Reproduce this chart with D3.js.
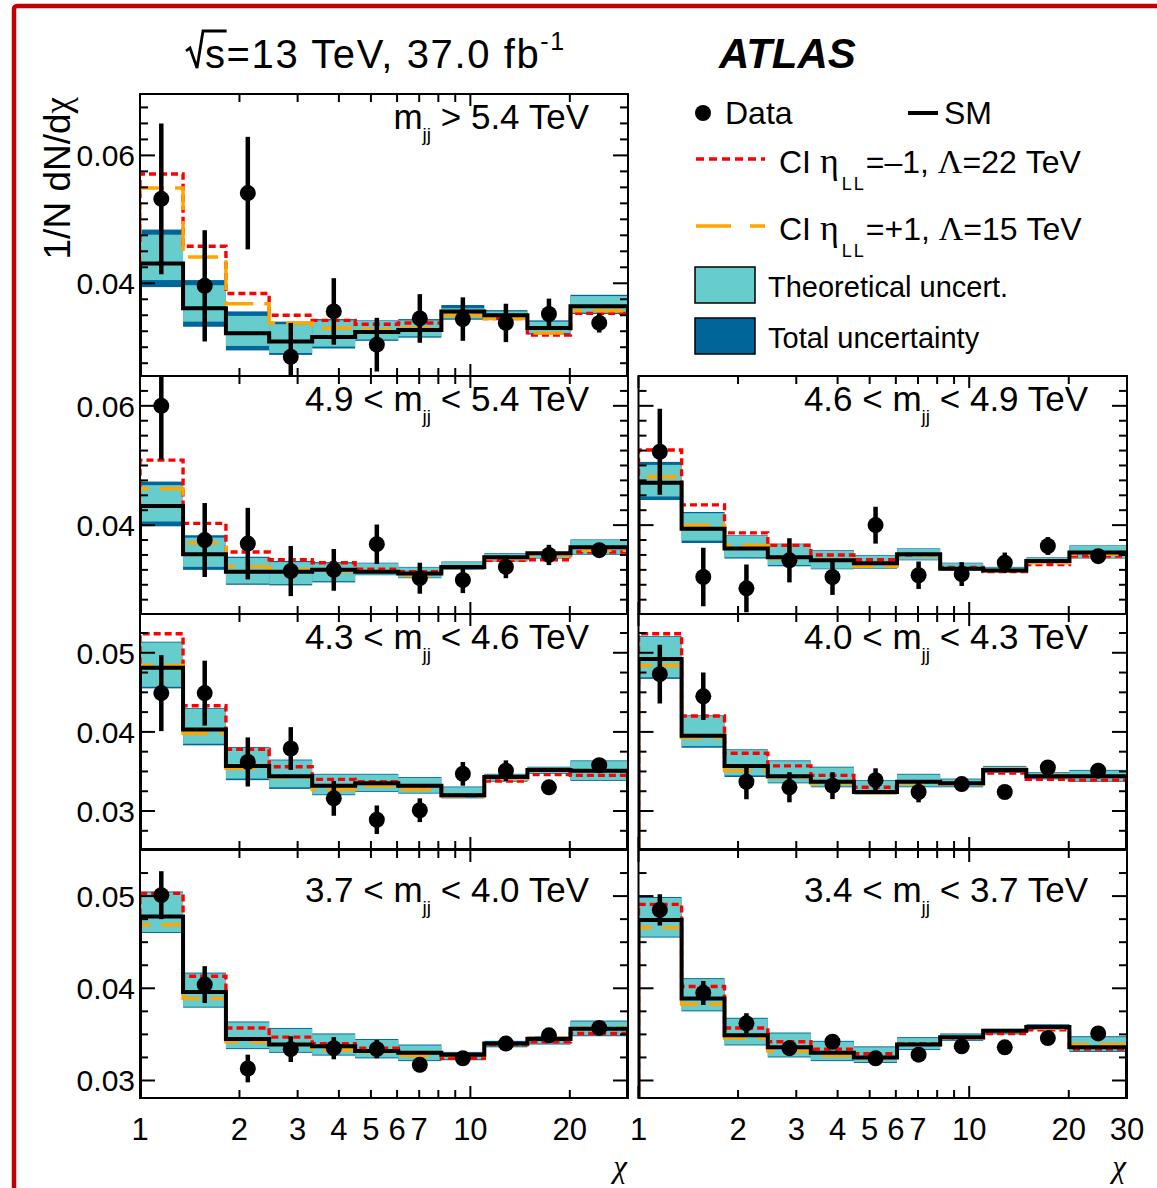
<!DOCTYPE html>
<html>
<head>
<meta charset="utf-8">
<script src="https://cdn.jsdelivr.net/npm/d3@7"></script>
<style>
  body { margin: 0; background: #fff; }
  svg text { font-family: "Liberation Sans", Arial, Helvetica, sans-serif; fill: #000; }
  .serif { font-family: "Liberation Serif", "Times New Roman", serif; }
</style>
</head>
<body>
<svg id="chart" width="1157" height="1188"></svg>
<script>
// ---- chi binning (dijet angular variable) ----
const chiEdges   = [1, 1.35, 1.82, 2.46, 3.32, 4.48, 6.05, 8.17, 11.02, 14.88, 20.09, 30];
const chiCenters = [1.16, 1.57, 2.12, 2.86, 3.86, 5.21, 7.03, 9.49, 12.81, 17.29, 24.55];
const xTickValues = [1, 2, 3, 4, 5, 6, 7, 8, 9, 10, 20, 30];
const xTickLabels = ["1", "2", "3", "4", "5", "6", "7", "", "", "10", "20", "30"];

// ---- mass bins (TeV), one per panel ----
const massLow  = ["5.4", "4.9", "4.6", "4.3", "4.0", "3.7", "3.4"];
const massHigh = [null,  "5.4", "4.9", "4.6", "4.3", "4.0", "3.7"];

// ---- y-axis ranges and labelled ticks, one per row ----
const yAxisMin = [0.0255, 0.0251, 0.0252, 0.0281];
const yAxisMax = [0.0696, 0.0650, 0.0549, 0.0550];
const yTickLabels = [[0.04, 0.06], [0.04, 0.06], [0.03, 0.04, 0.05], [0.03, 0.04, 0.05]];

// ---- measured 1/N dN/dchi and statistical errors ----
const dataValues = [
  [0.0532, 0.0396, 0.0541, 0.0285, 0.0356, 0.0304, 0.0345, 0.0344, 0.0338, 0.0352, 0.0338],
  [0.0600, 0.0375, 0.0369, 0.0323, 0.0325, 0.0368, 0.0311, 0.0308, 0.0330, 0.0350, 0.0358],
  [0.0523, 0.0313, 0.0294, 0.0341, 0.0313, 0.0400, 0.0316, 0.0318, 0.0337, 0.0365, 0.0348],
  [0.0449, 0.0449, 0.0362, 0.0379, 0.0316, 0.0289, 0.0301, 0.0347, 0.0351, 0.0330, 0.0358],
  [0.0473, 0.0445, 0.0337, 0.0330, 0.0332, 0.0339, 0.0324, 0.0334, 0.0324, 0.0355, 0.0351],
  [0.0501, 0.0404, 0.0313, 0.0334, 0.0335, 0.0334, 0.0317, 0.0324, 0.0340, 0.0349, 0.0357],
  [0.0485, 0.0395, 0.0362, 0.0335, 0.0342, 0.0324, 0.0328, 0.0337, 0.0336, 0.0346, 0.0351]
];
const dataErrors = [
  [0.0118, 0.0087, 0.0088, 0.0053, 0.0052, 0.0042, 0.0038, 0.0034, 0.0030, 0.0024, 0.0015],
  [0.0090, 0.0062, 0.0060, 0.0042, 0.0035, 0.0033, 0.0026, 0.0022, 0.0019, 0.0017, 0.0010],
  [0.0072, 0.0049, 0.0040, 0.0037, 0.0030, 0.0031, 0.0023, 0.0020, 0.0017, 0.0015, 0.0008],
  [0.0048, 0.0041, 0.0031, 0.0027, 0.0022, 0.0018, 0.0015, 0.0015, 0.0013, 0.0008, 0.0008],
  [0.0037, 0.0030, 0.0022, 0.0019, 0.0017, 0.0015, 0.0013, 0.0009, 0.0008, 0.0008, 0.0007],
  [0.0026, 0.0020, 0.0015, 0.0014, 0.0012, 0.0010, 0.0008, 0.0007, 0.0006, 0.0006, 0.0005],
  [0.0017, 0.0013, 0.0011, 0.0008, 0.0006, 0.0005, 0.0005, 0.0004, 0.0004, 0.0004, 0.0004]
];

// ---- Standard Model prediction ----
const smValues = [
  [0.0431, 0.0361, 0.0322, 0.0309, 0.0316, 0.0324, 0.0327, 0.0356, 0.0350, 0.0330, 0.0364],
  [0.0432, 0.0351, 0.0322, 0.0322, 0.0325, 0.0322, 0.0319, 0.0330, 0.0346, 0.0353, 0.0363],
  [0.0471, 0.0394, 0.0361, 0.0346, 0.0341, 0.0336, 0.0351, 0.0327, 0.0324, 0.0340, 0.0354],
  [0.0481, 0.0403, 0.0357, 0.0344, 0.0332, 0.0335, 0.0332, 0.0320, 0.0343, 0.0352, 0.0351],
  [0.0492, 0.0395, 0.0357, 0.0344, 0.0337, 0.0324, 0.0337, 0.0335, 0.0352, 0.0344, 0.0344],
  [0.0478, 0.0396, 0.0345, 0.0339, 0.0337, 0.0332, 0.0330, 0.0328, 0.0340, 0.0345, 0.0356],
  [0.0474, 0.0389, 0.0349, 0.0336, 0.0330, 0.0325, 0.0339, 0.0347, 0.0354, 0.0358, 0.0336]
];

// ---- theoretical uncertainty band ----
const theoryLow = [
  [0.0405, 0.0340, 0.0302, 0.0291, 0.0301, 0.0312, 0.0317, 0.0345, 0.0345, 0.0322, 0.0354],
  [0.0406, 0.0330, 0.0302, 0.0301, 0.0306, 0.0317, 0.0312, 0.0326, 0.0340, 0.0345, 0.0351],
  [0.0448, 0.0374, 0.0346, 0.0333, 0.0327, 0.0328, 0.0342, 0.0325, 0.0323, 0.0337, 0.0345],
  [0.0457, 0.0385, 0.0341, 0.0330, 0.0321, 0.0325, 0.0323, 0.0317, 0.0338, 0.0348, 0.0339],
  [0.0469, 0.0382, 0.0345, 0.0336, 0.0331, 0.0322, 0.0331, 0.0331, 0.0349, 0.0341, 0.0338],
  [0.0461, 0.0380, 0.0335, 0.0331, 0.0328, 0.0325, 0.0322, 0.0323, 0.0337, 0.0340, 0.0349],
  [0.0456, 0.0376, 0.0339, 0.0326, 0.0322, 0.0320, 0.0334, 0.0344, 0.0351, 0.0356, 0.0332]
];
const theoryHigh = [
  [0.0476, 0.0397, 0.0349, 0.0336, 0.0342, 0.0341, 0.0342, 0.0361, 0.0356, 0.0340, 0.0380],
  [0.0467, 0.0379, 0.0345, 0.0338, 0.0336, 0.0336, 0.0329, 0.0338, 0.0352, 0.0354, 0.0375],
  [0.0501, 0.0420, 0.0382, 0.0368, 0.0357, 0.0349, 0.0360, 0.0336, 0.0329, 0.0345, 0.0365],
  [0.0513, 0.0429, 0.0380, 0.0364, 0.0346, 0.0346, 0.0342, 0.0330, 0.0346, 0.0355, 0.0363],
  [0.0520, 0.0420, 0.0377, 0.0363, 0.0355, 0.0338, 0.0346, 0.0340, 0.0356, 0.0348, 0.0351],
  [0.0504, 0.0416, 0.0363, 0.0356, 0.0350, 0.0344, 0.0338, 0.0330, 0.0342, 0.0347, 0.0364],
  [0.0498, 0.0410, 0.0367, 0.0351, 0.0342, 0.0336, 0.0346, 0.0350, 0.0355, 0.0360, 0.0347]
];

// ---- total (theory + experimental) uncertainty band ----
const totalLow = [
  [0.0394, 0.0332, 0.0295, 0.0288, 0.0298, 0.0310, 0.0315, 0.0343, 0.0343, 0.0320, 0.0352],
  [0.0398, 0.0325, 0.0300, 0.0299, 0.0304, 0.0316, 0.0311, 0.0325, 0.0339, 0.0344, 0.0350],
  [0.0442, 0.0370, 0.0344, 0.0331, 0.0326, 0.0327, 0.0341, 0.0324, 0.0322, 0.0336, 0.0344],
  [0.0455, 0.0383, 0.0339, 0.0328, 0.0320, 0.0324, 0.0322, 0.0316, 0.0337, 0.0347, 0.0338],
  [0.0467, 0.0380, 0.0343, 0.0335, 0.0330, 0.0321, 0.0330, 0.0330, 0.0348, 0.0340, 0.0337],
  [0.0460, 0.0379, 0.0334, 0.0330, 0.0327, 0.0324, 0.0321, 0.0322, 0.0336, 0.0339, 0.0348],
  [0.0455, 0.0375, 0.0338, 0.0325, 0.0321, 0.0319, 0.0333, 0.0343, 0.0350, 0.0355, 0.0331]
];
const totalHigh = [
  [0.0484, 0.0405, 0.0356, 0.0340, 0.0344, 0.0342, 0.0344, 0.0366, 0.0358, 0.0342, 0.0382],
  [0.0473, 0.0383, 0.0347, 0.0340, 0.0338, 0.0337, 0.0330, 0.0339, 0.0353, 0.0355, 0.0376],
  [0.0506, 0.0422, 0.0383, 0.0369, 0.0358, 0.0350, 0.0361, 0.0337, 0.0330, 0.0346, 0.0366],
  [0.0514, 0.0430, 0.0381, 0.0365, 0.0347, 0.0347, 0.0343, 0.0331, 0.0347, 0.0356, 0.0364],
  [0.0521, 0.0421, 0.0378, 0.0364, 0.0356, 0.0339, 0.0347, 0.0341, 0.0357, 0.0349, 0.0352],
  [0.0505, 0.0417, 0.0364, 0.0357, 0.0351, 0.0345, 0.0339, 0.0331, 0.0343, 0.0348, 0.0365],
  [0.0499, 0.0411, 0.0368, 0.0352, 0.0343, 0.0337, 0.0347, 0.0351, 0.0356, 0.0361, 0.0348]
];

// ---- contact-interaction benchmarks ----
const ciMinusValues = [ // eta_LL = -1, Lambda = 22 TeV
  [0.0571, 0.0458, 0.0384, 0.0350, 0.0342, 0.0336, 0.0338, 0.0350, 0.0345, 0.0319, 0.0353],
  [0.0509, 0.0403, 0.0355, 0.0342, 0.0337, 0.0326, 0.0322, 0.0330, 0.0341, 0.0342, 0.0355],
  [0.0526, 0.0434, 0.0387, 0.0366, 0.0350, 0.0342, 0.0350, 0.0329, 0.0322, 0.0334, 0.0348],
  [0.0524, 0.0433, 0.0378, 0.0356, 0.0340, 0.0337, 0.0332, 0.0320, 0.0338, 0.0346, 0.0345],
  [0.0524, 0.0420, 0.0373, 0.0357, 0.0345, 0.0330, 0.0337, 0.0335, 0.0348, 0.0340, 0.0339],
  [0.0503, 0.0413, 0.0357, 0.0347, 0.0340, 0.0335, 0.0330, 0.0324, 0.0339, 0.0342, 0.0351],
  [0.0491, 0.0402, 0.0357, 0.0342, 0.0334, 0.0329, 0.0340, 0.0346, 0.0351, 0.0355, 0.0334]
];
const ciPlusValues = [ // eta_LL = +1, Lambda = 15 TeV
  [0.0549, 0.0441, 0.0368, 0.0338, 0.0330, 0.0327, 0.0330, 0.0350, 0.0345, 0.0322, 0.0357],
  [0.0461, 0.0370, 0.0330, 0.0325, 0.0323, 0.0322, 0.0316, 0.0329, 0.0344, 0.0350, 0.0358],
  [0.0481, 0.0400, 0.0366, 0.0344, 0.0342, 0.0331, 0.0350, 0.0326, 0.0324, 0.0337, 0.0351],
  [0.0484, 0.0398, 0.0354, 0.0343, 0.0327, 0.0332, 0.0327, 0.0319, 0.0341, 0.0352, 0.0351],
  [0.0484, 0.0393, 0.0351, 0.0343, 0.0335, 0.0323, 0.0335, 0.0334, 0.0353, 0.0345, 0.0344],
  [0.0469, 0.0389, 0.0342, 0.0339, 0.0333, 0.0331, 0.0327, 0.0327, 0.0340, 0.0346, 0.0357],
  [0.0466, 0.0383, 0.0346, 0.0332, 0.0327, 0.0324, 0.0339, 0.0346, 0.0354, 0.0357, 0.0339]
];

// ---- pad layout ----
const panelCol = [0, 0, 1, 0, 1, 0, 1];
const panelRow = [0, 1, 1, 2, 2, 3, 3];
const colX = [[140, 628], [638.5, 1127]];
const rowY = [[94, 376], [376, 614], [614, 849], [850, 1098]];

const COLORS = { theory: "#66cccc", total: "#006699", ciMinus: "#ff0000", ciPlus: "#ffa500" };

const svg = d3.select("#chart");

// outer red frame
svg.append("rect")
  .attr("x", 14).attr("y", 6).attr("width", 1170).attr("height", 1210).attr("rx", 3)
  .attr("fill", "none").attr("stroke", "#c00000").attr("stroke-width", 4.5);

const defs = svg.append("defs");

function stepPoints(values, yFloor) {
  const pts = [[chiEdges[0], yFloor]];
  values.forEach((v, i) => { pts.push([chiEdges[i], v]); pts.push([chiEdges[i + 1], v]); });
  pts.push([chiEdges[chiEdges.length - 1], yFloor]);
  return pts;
}

massLow.forEach((lo, p) => {
  const col = panelCol[p], row = panelRow[p];
  const [x0, x1] = colX[col];
  const [yt, yb] = rowY[row];
  const x = d3.scaleLog().domain([1, 30]).range([x0, x1]);
  const y = d3.scaleLinear().domain([yAxisMin[row], yAxisMax[row]]).range([yb, yt]);
  const floor = yAxisMin[row] - 0.01;

  defs.append("clipPath").attr("id", "clip" + p)
    .append("rect").attr("x", x0).attr("y", yt).attr("width", x1 - x0).attr("height", yb - yt);

  const g = svg.append("g").attr("clip-path", `url(#clip${p})`);
  const idx = d3.range(chiCenters.length);

  // uncertainty bands
  g.selectAll(".tot").data(idx).join("rect")
    .attr("x", i => x(chiEdges[i])).attr("width", i => x(chiEdges[i + 1]) - x(chiEdges[i]))
    .attr("y", i => y(totalHigh[p][i])).attr("height", i => y(totalLow[p][i]) - y(totalHigh[p][i]))
    .attr("fill", COLORS.total);
  g.selectAll(".th").data(idx).join("rect")
    .attr("x", i => x(chiEdges[i])).attr("width", i => x(chiEdges[i + 1]) - x(chiEdges[i]))
    .attr("y", i => y(theoryHigh[p][i])).attr("height", i => y(theoryLow[p][i]) - y(theoryHigh[p][i]))
    .attr("fill", COLORS.theory);

  const line = d3.line().x(d => x(d[0])).y(d => y(d[1]));
  g.append("path").attr("d", line(stepPoints(ciMinusValues[p], floor)))
    .attr("fill", "none").attr("stroke", COLORS.ciMinus).attr("stroke-width", 3.4)
    .attr("stroke-dasharray", "7,4");
  g.append("path").attr("d", line(stepPoints(ciPlusValues[p], floor)))
    .attr("fill", "none").attr("stroke", COLORS.ciPlus).attr("stroke-width", 3.4)
    .attr("stroke-dasharray", "30,11");
  g.append("path").attr("d", line(stepPoints(smValues[p], floor)))
    .attr("fill", "none").attr("stroke", "#000").attr("stroke-width", 4);

  // data points
  g.selectAll(".err").data(idx).join("line")
    .attr("x1", i => x(chiCenters[i])).attr("x2", i => x(chiCenters[i]))
    .attr("y1", i => y(dataValues[p][i] - dataErrors[p][i]))
    .attr("y2", i => y(dataValues[p][i] + dataErrors[p][i]))
    .attr("stroke", "#000").attr("stroke-width", 4.5);
  g.selectAll(".pt").data(idx).join("circle")
    .attr("cx", i => x(chiCenters[i])).attr("cy", i => y(dataValues[p][i])).attr("r", 8)
    .attr("fill", "#000");

  // frame and ticks
  const axes = svg.append("g").attr("stroke", "#000").attr("stroke-width", 2);
  axes.append("rect").attr("x", x0).attr("y", yt).attr("width", x1 - x0).attr("height", yb - yt)
    .attr("fill", "none");
  xTickValues.forEach(v => {
    const len = (v === 1 || v === 10) ? 12 : 8;
    axes.append("line").attr("x1", x(v)).attr("x2", x(v)).attr("y1", yb).attr("y2", yb - len);
    axes.append("line").attr("x1", x(v)).attr("x2", x(v)).attr("y1", yt).attr("y2", yt + len);
  });
  const minor = d3.range(Math.ceil(yAxisMin[row] / 0.0025) * 0.0025, yAxisMax[row], 0.0025);
  minor.forEach(v => {
    const major = yTickLabels[row].some(t => Math.abs(t - v) < 1e-6);
    const len = major ? 15 : 8;
    axes.append("line").attr("x1", x0).attr("x2", x0 + len).attr("y1", y(v)).attr("y2", y(v));
    axes.append("line").attr("x1", x1).attr("x2", x1 - len).attr("y1", y(v)).attr("y2", y(v));
  });

  // y tick labels on the left column
  if (col === 0) {
    yTickLabels[row].forEach(v => {
      svg.append("text").attr("x", x0 - 5).attr("y", y(v)).attr("dy", "0.36em")
        .attr("text-anchor", "end").style("font-size", "30px").text(d3.format(".2f")(v));
    });
  }
  // x tick labels on the bottom row
  if (row === 3) {
    xTickValues.forEach((v, k) => {
      const lab = xTickLabels[k];
      if (!lab || (col === 0 && v === 30)) return;
      svg.append("text").attr("x", x(v)).attr("y", 1140).attr("text-anchor", "middle")
        .style("font-size", "31px").text(lab);
    });
    svg.append("text").attr("class", "serif").attr("x", x1 - 1).attr("y", 1177)
      .attr("text-anchor", "end").style("font-size", "31px").style("font-style", "italic").text("χ");
  }

  // mass-range label
  const lab = svg.append("text").attr("x", x1 - 39).attr("y", yt + (row === 3 ? 52 : 35))
    .attr("text-anchor", "end").style("font-size", "35px");
  if (massHigh[p] === null) {
    lab.append("tspan").text("m");
    lab.append("tspan").attr("dy", 12).style("font-size", "19px").text("jj");
    lab.append("tspan").attr("dy", -12).text(" > " + lo + " TeV");
  } else {
    lab.append("tspan").text(lo + " < m");
    lab.append("tspan").attr("dy", 12).style("font-size", "19px").text("jj");
    lab.append("tspan").attr("dy", -12).text(" < " + massHigh[p] + " TeV");
  }
});

// y-axis title
const yTitle = svg.append("text").attr("transform", "translate(70,97) rotate(-90)")
  .attr("text-anchor", "end").style("font-size", "37px");
yTitle.append("tspan").text("1/N dN/d");
yTitle.append("tspan").attr("class", "serif").text("χ");

// header
const title = svg.append("text").attr("x", 205).attr("y", 68).style("font-size", "40px")
  .style("letter-spacing", "1.6px");
title.append("tspan").text("s=13 TeV, 37.0 fb");
title.append("tspan").attr("dy", -18).style("font-size", "25px").text("-1");
const sWidth = title.node().getSubStringLength(0, 1);
svg.append("path")
  .attr("d", `M186,51 L190,48 L197,68 L203,31 L${205 + sWidth},31`)
  .attr("fill", "none").attr("stroke", "#000").attr("stroke-width", 2.8);

svg.append("text").attr("x", 719).attr("y", 68).style("font-size", "42px")
  .style("font-weight", "bold").style("font-style", "italic").text("ATLAS");

// legend
const leg = svg.append("g");
leg.append("circle").attr("cx", 703).attr("cy", 113).attr("r", 8).attr("fill", "#000");
leg.append("text").attr("x", 725).attr("y", 124).style("font-size", "32px").text("Data");
leg.append("line").attr("x1", 908).attr("x2", 938).attr("y1", 113).attr("y2", 113)
  .attr("stroke", "#000").attr("stroke-width", 4);
leg.append("text").attr("x", 944).attr("y", 124).style("font-size", "32px").text("SM");

function ciEntry(yLine, yText, color, dash, sign, lambda) {
  leg.append("line").attr("x1", 696).attr("x2", 765).attr("y1", yLine).attr("y2", yLine)
    .attr("stroke", color).attr("stroke-width", 3.6).attr("stroke-dasharray", dash);
  const t = leg.append("text").attr("x", 779).attr("y", yText).style("font-size", "32px");
  t.append("tspan").text("CI ");
  t.append("tspan").attr("class", "serif").style("font-size", "36px").text("η");
  t.append("tspan").attr("dy", 17).attr("dx", 3).style("font-size", "18px")
    .style("letter-spacing", "2px").text("LL");
  t.append("tspan").attr("dy", -17).text("=" + sign + "1, ");
  t.append("tspan").attr("class", "serif").style("font-size", "34px").text("Λ");
  t.append("tspan").text("=" + lambda + " TeV");
}
ciEntry(159, 173, COLORS.ciMinus, "8,5", "–", "22");
ciEntry(226, 240, COLORS.ciPlus, "35,19", "+", "15");

leg.append("rect").attr("x", 695).attr("y", 267).attr("width", 60).attr("height", 36)
  .attr("fill", COLORS.theory).attr("stroke", "#000").attr("stroke-width", 1.5);
leg.append("text").attr("x", 768).attr("y", 297).style("font-size", "29px").text("Theoretical uncert.");
leg.append("rect").attr("x", 695).attr("y", 318).attr("width", 60).attr("height", 36)
  .attr("fill", COLORS.total).attr("stroke", "#000").attr("stroke-width", 1.5);
leg.append("text").attr("x", 768).attr("y", 348).style("font-size", "29px").text("Total uncertainty");
</script>
</body>
</html>
